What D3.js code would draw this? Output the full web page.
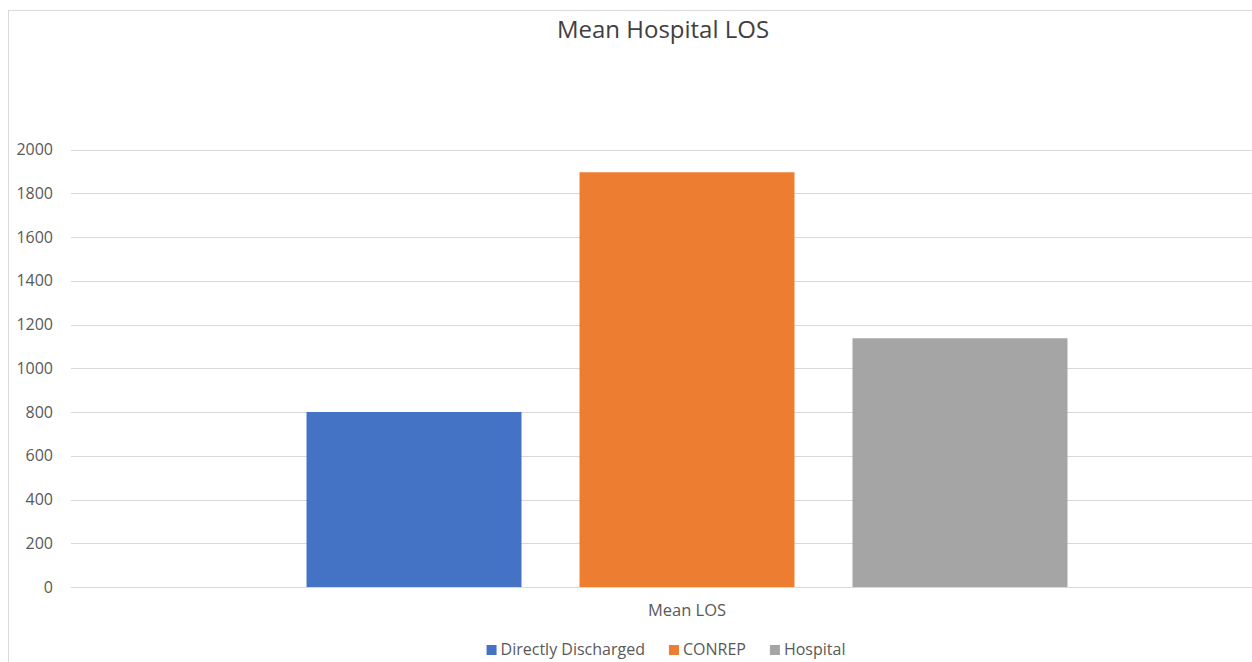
<html>
<head>
<meta charset="utf-8">
<title>Mean Hospital LOS</title>
<script src="https://d3js.org/d3.v7.min.js"></script>
<style>
  body { margin: 0; background: #fff; }
  text { font-family: "Open Sans", sans-serif; }
</style>
</head>
<body>
<div id="chart"></div>
<script>
// data
var categories = ["Mean LOS"];
var series = ["Directly Discharged", "CONREP", "Hospital"];
var values = [800, 1896, 1137];
var colors = ["#4472c4", "#ed7d31", "#a5a5a5"];
var yTicks = [0, 200, 400, 600, 800, 1000, 1200, 1400, 1600, 1800, 2000];

var W = 1252, H = 662;
var svg = d3.select("#chart").append("svg")
    .attr("width", W).attr("height", H);

// chart border (cropped on right/bottom)
svg.append("rect")
    .attr("x", 8.5).attr("y", 10.5)
    .attr("width", 1310).attr("height", 700)
    .attr("fill", "#fff").attr("stroke", "#d9d9d9");

var y = d3.scaleLinear().domain([0, 2000]).range([587, 149.5]);
var x0 = d3.scaleBand().domain(categories).range([71, 1303])
    .paddingInner(0).paddingOuter(0.3095);
var x1 = d3.scaleBand().domain(series).range([0, x0.bandwidth()])
    .paddingInner(58 / 273).paddingOuter(0);

// gridlines
svg.append("g").selectAll("line").data(yTicks).enter().append("line")
    .attr("x1", 71).attr("x2", 1303)
    .attr("y1", function(d) { return Math.round(y(d)) + 0.5; })
    .attr("y2", function(d) { return Math.round(y(d)) + 0.5; })
    .attr("stroke", "#d9d9d9").attr("stroke-width", 1);

// y axis labels
var yAxis = svg.append("g")
    .attr("transform", "translate(68,0)")
    .call(d3.axisLeft(y).tickValues(yTicks).tickFormat(d3.format("d"))
      .tickSize(0).tickPadding(15));
yAxis.select(".domain").remove();
yAxis.selectAll("text")
    .attr("fill", "#595959")
    .style("font-size", "16px")
    .style("font-family", "'Open Sans', sans-serif");

// bars
var g = svg.append("g").selectAll("g").data(categories).enter().append("g")
    .attr("transform", function(d) { return "translate(" + x0(d) + ",0)"; });
g.selectAll("rect").data(series).enter().append("rect")
    .attr("x", function(d) { return x1(d); })
    .attr("width", x1.bandwidth())
    .attr("y", function(d, i) { return y(values[i]); })
    .attr("height", function(d, i) { return y(0) - y(values[i]); })
    .attr("fill", function(d, i) { return colors[i]; });

// category label
svg.append("text")
    .attr("x", x0(categories[0]) + x0.bandwidth() / 2)
    .attr("y", 616)
    .attr("text-anchor", "middle")
    .attr("fill", "#595959")
    .style("font-size", "16.5px")
    .text(categories[0]);

// title
svg.append("text")
    .attr("x", 663).attr("y", 38)
    .attr("text-anchor", "middle")
    .attr("fill", "#404040")
    .style("font-size", "24px")
    .text("Mean Hospital LOS");

// legend
var legend = svg.append("g");
var lx = 0;
series.forEach(function(s, i) {
  var item = legend.append("g").attr("transform", "translate(" + lx + ",0)");
  item.append("rect").attr("x", 0).attr("y", -10).attr("width", 10).attr("height", 10)
      .attr("fill", colors[i]);
  var t = item.append("text").attr("x", 14).attr("y", 0)
      .attr("fill", "#595959").style("font-size", "16px").text(s);
  lx += 14 + t.node().getComputedTextLength() + 24;
});
var lw = lx - 24;
legend.attr("transform", "translate(" + (666 - lw / 2) + ",655)");
</script>
</body>
</html>
